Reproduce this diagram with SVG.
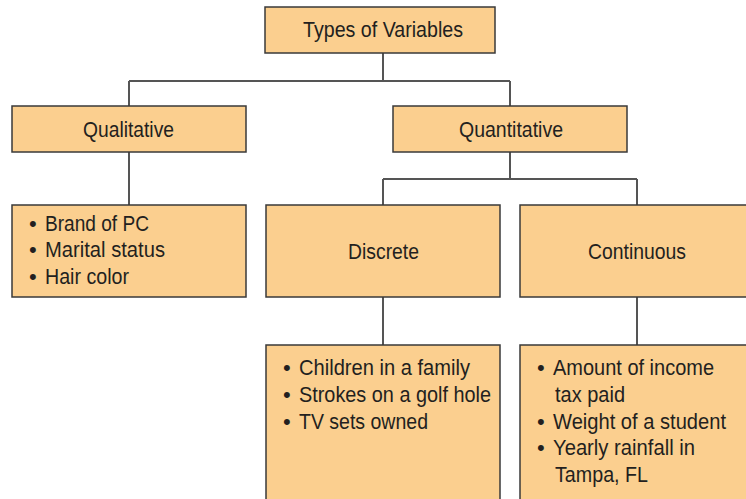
<svg xmlns="http://www.w3.org/2000/svg" width="746" height="499" viewBox="0 0 746 499">
<style>
.box{fill:#fbcf8f;stroke:#3a3a3a;stroke-width:1.5}
.t{font-family:"Liberation Sans",Arial,sans-serif;font-size:22px;fill:#231f20}
.c{text-anchor:middle}
.ln{fill:none;stroke:#555;stroke-width:2}
</style>
<rect width="746" height="499" fill="#fff"/>
<g id="connectors">
<path class="ln" d="M383 53V81M129 81H510M129 81V106M510 81V106"/>
<path class="ln" d="M129 152V205"/>
<path class="ln" d="M510 152V179M383 179H637M383 179V205M637 179V205"/>
<path class="ln" d="M383 297V345M637 297V345"/>
</g>
<g id="types"><rect class="box" x="265" y="7" width="230" height="46"/><text class="t" x="303" y="37" textLength="160" lengthAdjust="spacingAndGlyphs">Types of Variables</text></g>
<g id="qualitative"><rect class="box" x="12" y="106" width="234" height="46"/><text class="t" x="83" y="137" textLength="91" lengthAdjust="spacingAndGlyphs">Qualitative</text></g>
<g id="quantitative"><rect class="box" x="393" y="106" width="234" height="46"/><text class="t" x="459" y="137" textLength="104" lengthAdjust="spacingAndGlyphs">Quantitative</text></g>
<g id="qual-examples"><rect class="box" x="12" y="205" width="234" height="92"/>
<text class="t" x="29" y="231">•</text><text class="t" x="45" y="231" textLength="104" lengthAdjust="spacingAndGlyphs">Brand of PC</text>
<text class="t" x="29" y="257">•</text><text class="t" x="45" y="257" textLength="120" lengthAdjust="spacingAndGlyphs">Marital status</text>
<text class="t" x="29" y="284">•</text><text class="t" x="45" y="284" textLength="84" lengthAdjust="spacingAndGlyphs">Hair color</text></g>
<g id="discrete"><rect class="box" x="266" y="205" width="234" height="92"/><text class="t" x="348" y="259" textLength="71" lengthAdjust="spacingAndGlyphs">Discrete</text></g>
<g id="continuous"><rect class="box" x="520" y="205" width="234" height="92"/><text class="t" x="588" y="259" textLength="98" lengthAdjust="spacingAndGlyphs">Continuous</text></g>
<g id="discrete-examples"><rect class="box" x="266" y="345" width="234" height="170"/>
<text class="t" x="283" y="375">•</text><text class="t" x="299" y="375" textLength="171" lengthAdjust="spacingAndGlyphs">Children in a family</text>
<text class="t" x="283" y="402">•</text><text class="t" x="299" y="402" textLength="192" lengthAdjust="spacingAndGlyphs">Strokes on a golf hole</text>
<text class="t" x="283" y="429">•</text><text class="t" x="299" y="429" textLength="129" lengthAdjust="spacingAndGlyphs">TV sets owned</text></g>
<g id="continuous-examples"><rect class="box" x="520" y="345" width="234" height="170"/>
<text class="t" x="537" y="375">•</text><text class="t" x="553" y="375" textLength="161" lengthAdjust="spacingAndGlyphs">Amount of income</text>
<text class="t" x="555" y="402" textLength="70" lengthAdjust="spacingAndGlyphs">tax paid</text>
<text class="t" x="537" y="429">•</text><text class="t" x="553" y="429" textLength="173" lengthAdjust="spacingAndGlyphs">Weight of a student</text>
<text class="t" x="537" y="455">•</text><text class="t" x="553" y="455" textLength="142" lengthAdjust="spacingAndGlyphs">Yearly rainfall in</text>
<text class="t" x="555" y="482" textLength="93" lengthAdjust="spacingAndGlyphs">Tampa, FL</text></g>
</svg>
